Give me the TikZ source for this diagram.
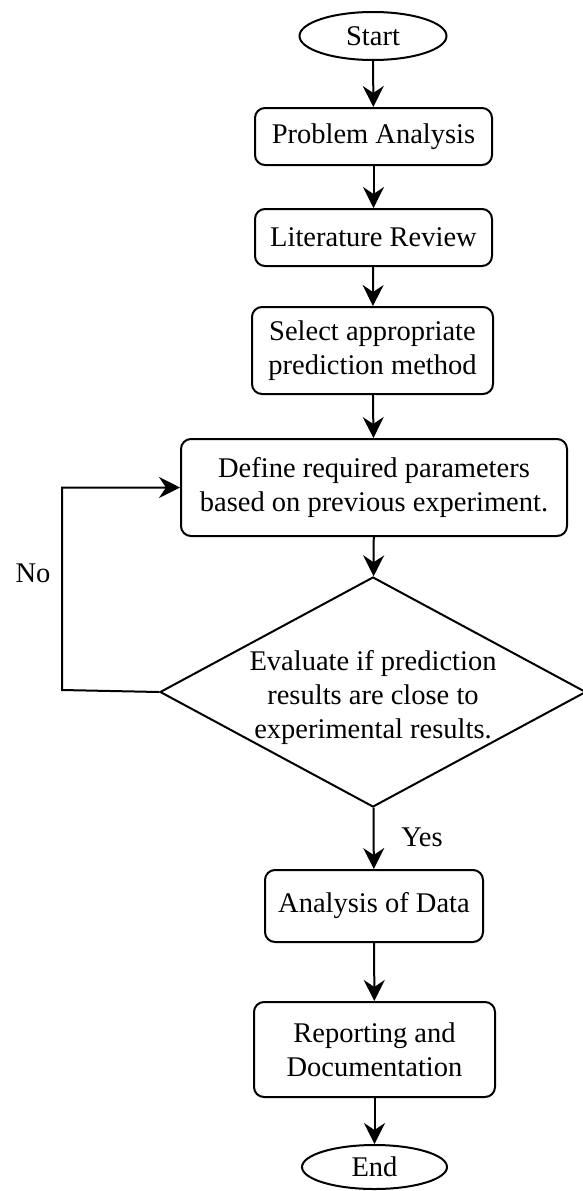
\documentclass[tikz,border=0pt]{standalone}
\usepackage{fontspec}
\setmainfont{Liberation Serif}
\usetikzlibrary{shapes.geometric,arrows.meta}
\begin{document}
\begin{tikzpicture}[x=1pt,y=-1pt,
  every node/.style={font=\fontsize{28.5}{34}\selectfont, align=center},
  box/.style={draw, line width=2pt, rounded corners=10pt, inner sep=0pt},
  term/.style={draw, ellipse, line width=2pt, inner sep=0pt},
  decision/.style={draw, diamond, line width=2pt, inner sep=0pt, shape aspect=1.85},
  arr/.style={line width=2pt, -{Stealth[length=21pt,width=21pt,inset=7pt]}},
  lbl/.style={inner sep=0pt}
]
\useasboundingbox (0,0) rectangle (582,1191);
\node[term, minimum width=147pt, minimum height=48pt] (start) at (373,36) {Start};
\node[box, minimum width=237pt, minimum height=57pt] (pa) at (373.5,136.5) {Problem Analysis};
\node[box, minimum width=237pt, minimum height=57pt] (lr) at (373.5,237.5) {Literature Review};
\node[box, minimum width=241pt, minimum height=87pt] (sel) at (372.5,350.5) {Select appropriate\\prediction method};
\node[box, minimum width=386pt, minimum height=97pt] (def) at (374,487.5) {Define required parameters\\based on previous experiment.};
\node[decision, minimum width=426pt, minimum height=230pt] (eval) at (373,692) {};
\node[lbl] (evaltxt) at (373,697) {Evaluate if prediction\\results are close to\\experimental results.};
\node[box, minimum width=218pt, minimum height=72pt] (ana) at (374,906) {Analysis of Data};
\node[box, minimum width=241pt, minimum height=95pt] (rep) at (374.5,1049.5) {Reporting and\\Documentation};
\node[term, minimum width=145pt, minimum height=44pt] (end) at (374.5,1167) {End};
\coordinate (lb) at (62,690);
\coordinate (lt) at (62,487.5);
\draw[arr] (start) -- (pa);
\draw[arr] (pa) -- (lr);
\draw[arr] (lr) -- (sel);
\draw[arr] (sel) -- (def);
\draw[arr] (def) -- (eval);
\draw[arr] (eval) -- (ana);
\draw[arr] (ana) -- (rep);
\draw[arr] (rep) -- (end);
\draw[arr] (eval.west) -- (lb) -- (lt) -- (def.west);
\node[lbl] (no) at (33,573) {No};
\node[lbl] (yes) at (422,837) {Yes};
\end{tikzpicture}
\end{document}
